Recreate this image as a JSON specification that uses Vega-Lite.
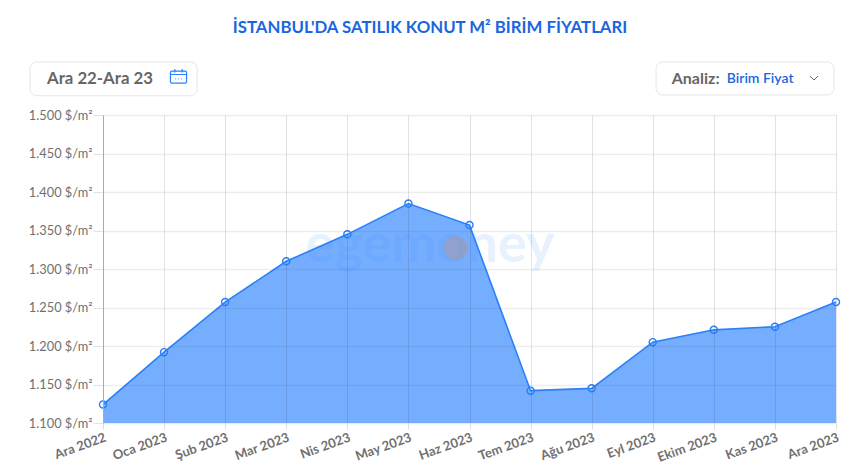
{
  "$schema": "https://vega.github.io/schema/vega-lite/v6.json",
  "width": 733,
  "height": 308,
  "autosize": "none",
  "padding": {"left": 103, "top": 115, "right": 26, "bottom": 45},
  "background": "white",
  "config": {"font": "Lato", "view": {"stroke": null}, "axisY": {"tickCount": 8}},
  "datasets": {
    "fiyatlar": [
      {"ay": "Ara 2022", "fiyat": 1124},
      {"ay": "Oca 2023", "fiyat": 1192},
      {"ay": "Şub 2023", "fiyat": 1257},
      {"ay": "Mar 2023", "fiyat": 1310},
      {"ay": "Nis 2023", "fiyat": 1345},
      {"ay": "May 2023", "fiyat": 1385},
      {"ay": "Haz 2023", "fiyat": 1357},
      {"ay": "Tem 2023", "fiyat": 1142},
      {"ay": "Ağu 2023", "fiyat": 1145},
      {"ay": "Eyl 2023", "fiyat": 1205},
      {"ay": "Ekim 2023", "fiyat": 1221},
      {"ay": "Kas 2023", "fiyat": 1225},
      {"ay": "Ara 2023", "fiyat": 1257}
    ]
  },
  "data": {"name": "fiyatlar"},
  "layer": [
    {
      "mark": {"type": "area", "color": "#1a78ff", "opacity": 0.6},
      "encoding": {
        "x": {
          "field": "ay",
          "type": "ordinal",
          "title": null,
          "scale": {
            "type": "point",
            "padding": 0,
            "domain": ["Ara 2022", "Oca 2023", "Şub 2023", "Mar 2023", "Nis 2023", "May 2023", "Haz 2023", "Tem 2023", "Ağu 2023", "Eyl 2023", "Ekim 2023", "Kas 2023", "Ara 2023"]
          },
          "axis": {
            "zindex": 1,
            "grid": true,
            "gridColor": "#2c3440",
            "gridOpacity": 0.14,
            "gridWidth": 1,
            "domain": false,
            "tickColor": "#dddddd",
            "tickSize": 6,
            "labelAngle": -20,
            "labelAlign": "right",
            "labelBaseline": "top",
            "labelColor": "#707070",
            "labelFontSize": 13,
            "labelFontWeight": 700,
            "labelPadding": 2,
            "labelOverlap": false,
            "labelBound": false,
            "labelFlush": false
          }
        },
        "y": {
          "field": "fiyat",
          "type": "quantitative",
          "title": null,
          "scale": {"domain": [1100, 1500], "nice": false, "zero": false},
          "axis": {
            "zindex": 1,
            "tickCount": 8,
            "labelExpr": "replace(format(datum.value, ','), ',', '.') + ' $/m²'",
            "grid": true,
            "gridColor": "#2c3440",
            "gridOpacity": 0.09,
            "gridWidth": 1.5,
            "domain": true,
            "domainColor": "#aaaaaa",
            "domainWidth": 1,
            "ticks": true,
            "tickColor": "#e2e2e2",
            "tickSize": 10,
            "labelColor": "#707070",
            "labelFontSize": 12.8,
            "labelPadding": 1,
            "labelOverlap": false,
            "labelFlush": false,
            "labelBound": false
          }
        },
        "y2": {"datum": 1100}
      }
    },
    {
      "mark": {"type": "line", "color": "#2a80fb", "strokeWidth": 1.6},
      "encoding": {
        "x": {"field": "ay", "type": "ordinal"},
        "y": {"field": "fiyat", "type": "quantitative"}
      }
    },
    {
      "mark": {"type": "point", "filled": false, "color": "#2a80fb", "size": 50, "strokeWidth": 1.4, "opacity": 1},
      "encoding": {
        "x": {"field": "ay", "type": "ordinal"},
        "y": {"field": "fiyat", "type": "quantitative"}
      }
    },
    {
      "data": {"values": [{"metin": "egemoney"}]},
      "mark": {"type": "text", "fontSize": 54, "fontWeight": 700, "color": "#2a80fb", "opacity": 0.1, "align": "center", "baseline": "middle", "xOffset": 21.6},
      "encoding": {
        "x": {"datum": "May 2023", "type": "ordinal"},
        "y": {"datum": 1330, "type": "quantitative"},
        "text": {"field": "metin"}
      }
    },
    {
      "data": {"values": [{"a": 1}]},
      "mark": {"type": "point", "shape": "circle", "filled": true, "color": "#e08a5a", "size": 600, "opacity": 0.28, "xOffset": 47.6},
      "encoding": {
        "x": {"datum": "May 2023", "type": "ordinal"},
        "y": {"datum": 1327, "type": "quantitative"}
      }
    },
    {
      "data": {"values": [{"metin": "İSTANBUL'DA SATILIK KONUT M² BİRİM FİYATLARI"}]},
      "mark": {"type": "text", "fontSize": 16.8, "fontWeight": 700, "color": "#1a66e0", "align": "center", "baseline": "middle", "xOffset": 21.6},
      "encoding": {
        "x": {"datum": "May 2023", "type": "ordinal"},
        "y": {"datum": 1613, "type": "quantitative"},
        "text": {"field": "metin"}
      }
    },
    {
      "data": {"values": [{"a": 1}]},
      "mark": {"type": "rect", "fill": "white", "stroke": "#e6e6e6", "cornerRadius": 7, "xOffset": -73, "x2Offset": 33},
      "encoding": {
        "x": {"datum": "Ara 2022", "type": "ordinal"},
        "x2": {"datum": "Oca 2023"},
        "y": {"datum": 1569, "type": "quantitative"},
        "y2": {"datum": 1525}
      }
    },
    {
      "data": {"values": [{"a": 1}]},
      "mark": {"type": "rect", "fill": "white", "stroke": "#e6e6e6", "cornerRadius": 7, "xOffset": 3.3, "x2Offset": -2},
      "encoding": {
        "x": {"datum": "Eyl 2023", "type": "ordinal"},
        "x2": {"datum": "Ara 2023"},
        "y": {"datum": 1569, "type": "quantitative"},
        "y2": {"datum": 1526}
      }
    },
    {
      "data": {"values": [{"metin": "Ara 22-Ara 23"}]},
      "mark": {"type": "text", "fontSize": 16.8, "fontWeight": 700, "color": "#666666", "align": "left", "baseline": "middle", "xOffset": -56},
      "encoding": {
        "x": {"datum": "Ara 2022", "type": "ordinal"},
        "y": {"datum": 1547, "type": "quantitative"},
        "text": {"field": "metin"}
      }
    },
    {
      "data": {"values": [{"metin": "Analiz:"}]},
      "mark": {"type": "text", "fontSize": 16, "fontWeight": 700, "color": "#666666", "align": "left", "baseline": "middle", "xOffset": 19},
      "encoding": {
        "x": {"datum": "Eyl 2023", "type": "ordinal"},
        "y": {"datum": 1547, "type": "quantitative"},
        "text": {"field": "metin"}
      }
    },
    {
      "data": {"values": [{"metin": "Birim Fiyat"}]},
      "mark": {"type": "text", "fontSize": 14, "fontWeight": 600, "color": "#1a66e0", "align": "left", "baseline": "middle", "xOffset": 74},
      "encoding": {
        "x": {"datum": "Eyl 2023", "type": "ordinal"},
        "y": {"datum": 1547, "type": "quantitative"},
        "text": {"field": "metin"}
      }
    },
    {
      "data": {"values": [{"a": 1}]},
      "mark": {"type": "point", "shape": "M-1,-0.5L0,0.5L1,-0.5", "filled": false, "color": "#666666", "size": 64, "strokeWidth": 1, "opacity": 1, "xOffset": -22},
      "encoding": {
        "x": {"datum": "Ara 2023", "type": "ordinal"},
        "y": {"datum": 1548, "type": "quantitative"}
      }
    },
    {
      "data": {"values": [{"a": 1}]},
      "mark": {"type": "point", "shape": "M-1,-0.8L1,-0.8Q1.2,-0.8 1.2,-0.6L1.2,0.8Q1.2,1 1,1L-1,1Q-1.2,1 -1.2,0.8L-1.2,-0.6Q-1.2,-0.8 -1,-0.8ZM-1.2,-0.3L1.2,-0.3M-0.55,-1.1L-0.55,-0.6M0.55,-1.1L0.55,-0.6M-0.5,0.35L-0.4,0.35M-0.05,0.35L0.05,0.35M0.4,0.35L0.5,0.35", "filled": false, "color": "#2a80fb", "size": 180, "strokeWidth": 1.2, "opacity": 1, "xOffset": 75.5},
      "encoding": {
        "x": {"datum": "Ara 2022", "type": "ordinal"},
        "y": {"datum": 1550, "type": "quantitative"}
      }
    }
  ]
}
